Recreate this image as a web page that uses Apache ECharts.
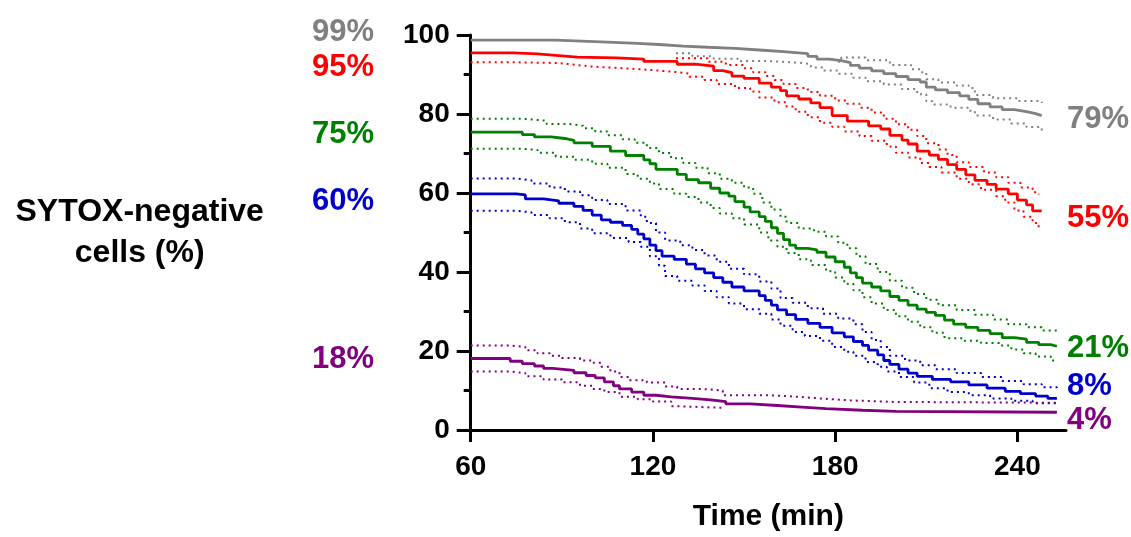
<!DOCTYPE html>
<html>
<head>
<meta charset="utf-8">
<title>SYTOX-negative cells</title>
<script src="https://cdn.jsdelivr.net/npm/echarts@6/dist/echarts.min.js"></script>
<style>
  html, body { margin: 0; padding: 0; background: #fff; }
  #chart { width: 1131px; height: 537px; }
</style>
</head>
<body>
<div id="chart"></div>
<script>
// tick labels
var xTicks = [60, 120, 180, 240];
var yTicks = [0, 20, 40, 60, 80, 100];

// group names / colours / labels at start and end of each curve
var groups = ['gray', 'red', 'green', 'blue', 'purple'];
var colors = ['#808080', '#ff0000', '#008000', '#0000cc', '#800080'];
var startLabels = ['99%', '95%', '75%', '60%', '18%'];
var endLabels = ['79%', '55%', '21%', '8%', '4%'];

// [time (min), % SYTOX-negative] — main curves
var grayMain = [[60, 98.7], [88, 98.2], [105, 97.9], [115, 97.6], [122, 97.2], [130, 96.9], [138, 96.6], [147, 96.2], [155, 95.8], [163, 95.5], [168, 95.3], [171, 94.6], [174, 93.9], [178, 93.5], [182, 93.0], [185, 92.3], [188, 91.6], [192, 90.9], [196, 90.2], [200, 89.5], [204, 88.7], [208, 88.1], [210, 86.8], [213, 86.1], [217, 85.4], [221, 84.6], [224, 83.7], [227, 82.6], [231, 81.8], [235, 81.1], [239, 80.6], [243, 80.1], [246, 79.6], [248, 79.6]];
var redMain = [[60, 95.5], [74, 95.2], [82, 94.8], [89, 94.4], [95, 94.2], [108, 93.9], [117, 93.3], [128, 92.6], [134, 92.1], [140, 91.0], [143, 90.5], [146, 89.6], [150, 89.0], [155, 87.8], [159, 86.8], [162, 85.9], [164, 84.6], [168, 83.8], [172, 82.8], [175, 81.6], [179, 79.6], [184, 78.2], [191, 77.0], [195, 76.2], [198, 74.6], [202, 73.4], [204, 72.4], [207, 70.6], [211, 69.6], [214, 68.5], [217, 67.2], [220, 66.0], [223, 64.6], [226, 63.2], [230, 62.2], [233, 61.0], [237, 59.8], [240, 58.2], [243, 57.0], [245, 55.5], [248, 55.5]];
var greenMain = [[60, 75.4], [77, 74.8], [81, 74.2], [86.5, 73.8], [91, 73.3], [94, 72.7], [100, 71.8], [106, 70.6], [111, 69.5], [117, 68.4], [119, 67.4], [121, 66.0], [128, 64.7], [131, 63.4], [135, 62.6], [139, 61.2], [142, 60.0], [145, 59.2], [147, 57.8], [150, 56.4], [152, 55.2], [155, 54.0], [157, 52.8], [159, 51.2], [161, 49.8], [163, 48.2], [165, 46.8], [167, 46.0], [171, 45.6], [174, 45.0], [177, 43.8], [180, 42.6], [183, 41.2], [185, 39.8], [187, 38.6], [189, 37.2], [192, 36.2], [195, 35.2], [198, 33.8], [201, 32.8], [204, 31.6], [207, 30.6], [210, 29.8], [213, 29.0], [216, 27.8], [219, 26.8], [223, 26.0], [227, 25.2], [231, 24.4], [235, 23.4], [239, 23.0], [243, 22.2], [247, 21.6], [251, 21.2], [253, 21.2]];
var blueMain = [[60, 59.8], [75, 59.5], [78, 58.5], [84, 58.0], [89, 57.4], [94, 56.6], [97, 55.6], [100, 54.4], [103, 53.2], [106, 52.6], [110, 51.8], [113, 50.8], [115, 49.6], [117, 48.4], [119, 46.8], [121, 45.4], [123, 44.0], [127, 43.2], [131, 42.0], [134, 40.8], [137, 39.8], [140, 38.6], [143, 37.4], [146, 36.2], [150, 35.2], [155, 34.0], [157, 32.8], [159, 31.6], [161, 30.4], [164, 29.2], [167, 28.0], [171, 27.0], [175, 26.0], [179, 24.6], [183, 23.6], [186, 22.4], [189, 21.4], [191, 20.2], [194, 19.0], [196, 17.6], [198, 16.6], [201, 15.4], [204, 14.4], [207, 13.6], [212, 12.8], [218, 12.2], [224, 11.4], [230, 10.6], [236, 9.8], [241, 9.2], [246, 8.6], [250, 8.0], [253, 7.9]];
var purpleMain = [[60, 18.1], [73, 17.4], [77, 16.8], [81, 16.2], [84, 15.6], [87, 15.1], [94, 14.5], [98, 13.8], [101, 13.2], [104, 12.2], [107, 11.2], [109, 10.4], [113, 9.6], [117, 8.8], [121, 8.4], [126, 8.0], [133, 7.6], [139, 7.2], [144, 6.6], [152, 6.2], [161, 5.8], [169, 5.4], [177, 5.0], [189, 4.7], [200, 4.5], [253, 4.5]];

// confidence bands (dotted)
var grayUpper = [[181, 93.2], [182, 94.3], [190, 93.6], [198, 92.4], [205, 91.3], [208, 90.6], [210, 88.8], [214, 88.0], [220, 87.2], [224, 86.6], [226, 84.8], [232, 84.0], [240, 83.3], [248, 82.8]];
var grayLower = [[127.6, 95.4], [133, 94.6], [140, 94.0], [148, 93.4], [158, 93.0], [168, 92.6], [172, 91.8], [176, 91.0], [181, 90.2], [186, 89.2], [190, 88.3], [196, 87.5], [202, 86.3], [207, 85.0], [210, 83.2], [212, 82.4], [218, 81.6], [224, 80.8], [226, 79.6], [232, 78.6], [238, 77.6], [243, 76.7], [248, 75.8]];
var redUpper = [[127.6, 94.1], [138, 93.2], [144, 92.4], [150, 91.6], [153, 90.6], [157, 89.6], [160, 88.6], [163, 87.6], [167, 86.6], [171, 85.6], [175, 84.6], [180, 83.4], [184, 82.6], [188, 81.6], [192, 80.4], [196, 78.8], [200, 77.4], [204, 76.0], [207, 74.4], [210, 72.6], [214, 71.0], [217, 69.6], [220, 67.8], [224, 66.6], [229, 65.2], [233, 64.0], [237, 62.6], [241, 61.4], [245, 60.2], [247, 59.6]];
var redLower = [[60, 93.1], [74, 92.9], [89, 92.4], [95, 92.0], [100, 91.6], [110, 91.1], [120, 90.6], [128, 90.2], [132, 89.4], [137, 88.6], [141, 87.6], [147, 86.6], [152, 85.7], [155, 84.2], [160, 83.0], [164, 81.9], [167, 80.6], [171, 79.2], [175, 77.8], [179, 76.8], [183, 75.6], [188, 74.4], [192, 73.2], [197, 71.8], [200, 70.2], [204, 69.0], [208, 67.6], [211, 66.6], [215, 65.2], [220, 63.6], [224, 62.2], [228, 60.8], [233, 59.2], [236, 57.6], [239, 55.6], [242, 54.0], [245, 52.4], [247, 50.9]];
var greenUpper = [[60, 78.8], [77, 78.3], [85, 77.5], [92, 77.0], [97, 76.4], [101, 75.6], [105, 74.6], [110, 73.6], [114, 72.7], [118, 71.4], [122, 70.1], [126, 68.8], [130, 67.6], [134, 66.4], [138, 65.0], [142, 63.6], [146, 62.6], [150, 61.4], [153, 59.8], [156, 57.6], [159, 55.8], [162, 54.0], [164, 52.4], [168, 51.0], [173, 50.2], [177, 49.0], [181, 47.4], [184, 46.0], [187, 44.0], [190, 42.0], [194, 40.0], [198, 37.8], [202, 36.0], [206, 34.4], [210, 33.0], [214, 31.6], [220, 30.4], [226, 29.2], [232, 28.0], [237, 26.8], [243, 26.0], [248, 25.2], [253, 24.6]];
var greenLower = [[60, 71.2], [77, 70.9], [82, 70.2], [88, 69.2], [94, 68.4], [100, 67.4], [105, 66.4], [111, 64.8], [115, 63.6], [119, 62.4], [122, 61.0], [127, 59.8], [131, 59.0], [135, 57.6], [139, 56.2], [142, 54.8], [146, 53.6], [150, 52.0], [155, 50.0], [158, 48.0], [161, 46.4], [164, 44.8], [168, 43.2], [172, 41.8], [177, 40.2], [180, 38.6], [183, 37.0], [186, 35.4], [189, 33.6], [192, 32.0], [196, 30.4], [200, 28.8], [204, 27.4], [208, 26.0], [212, 24.6], [216, 23.2], [222, 22.6], [228, 22.0], [234, 21.4], [238, 20.4], [242, 19.4], [246, 18.6], [251, 17.6], [253, 17.6]];
var blueUpper = [[60, 63.7], [75, 63.2], [80, 62.4], [86, 61.4], [91, 60.4], [96, 59.4], [100, 58.2], [105, 57.2], [111, 55.6], [116, 54.0], [118, 52.4], [121, 50.0], [124, 48.0], [129, 46.8], [133, 45.6], [137, 44.2], [141, 42.6], [145, 40.8], [150, 39.4], [155, 37.6], [159, 35.8], [162, 33.4], [166, 32.2], [171, 30.8], [176, 29.4], [181, 28.2], [186, 26.8], [189, 24.8], [192, 22.8], [195, 21.0], [198, 18.8], [203, 17.6], [208, 16.4], [213, 15.4], [220, 14.4], [228, 13.4], [235, 12.4], [242, 11.6], [248, 10.8], [253, 10.4]];
var blueLower = [[60, 55.5], [75, 55.1], [80, 54.4], [86, 53.6], [91, 52.6], [96, 51.0], [100, 49.8], [106, 48.6], [112, 47.6], [116, 46.4], [119, 44.0], [122, 41.6], [124, 39.0], [128, 37.8], [133, 36.6], [137, 35.2], [141, 33.6], [145, 32.0], [150, 30.6], [155, 29.4], [159, 28.0], [162, 26.4], [166, 24.8], [170, 23.8], [175, 22.6], [179, 21.0], [183, 19.8], [186, 18.8], [190, 17.2], [194, 16.0], [197, 14.8], [201, 13.4], [206, 12.0], [211, 10.6], [217, 9.6], [224, 8.8], [231, 8.0], [238, 7.4], [245, 6.8], [253, 6.3]];
var purpleUpper = [[60, 21.4], [73, 21.0], [78, 20.2], [82, 19.4], [86, 18.8], [90, 18.2], [96, 17.6], [100, 17.0], [103, 16.0], [106, 14.8], [109, 13.4], [112, 12.6], [118, 12.0], [124, 11.0], [128, 10.4], [136, 10.0], [143, 8.8], [158, 8.5], [166, 8.0], [175, 7.5], [185, 7.1], [200, 6.9], [253, 6.9]];
var purpleLower = [[60, 14.8], [73, 14.4], [78, 13.6], [84, 12.8], [90, 12.1], [96, 11.2], [100, 10.4], [104, 9.6], [109, 8.4], [115, 7.8], [120, 7.2], [126, 6.0], [129, 5.6], [143, 5.6]];

var mains = [grayMain, redMain, greenMain, blueMain, purpleMain];
var uppers = [grayUpper, redUpper, greenUpper, blueUpper, purpleUpper];
var lowers = [grayLower, redLower, greenLower, blueLower, purpleLower];

var FONT = '"Liberation Sans", Arial, Helvetica, sans-serif';

var myChart = echarts.init(document.getElementById('chart'));

var series = [];
// dotted bands first, solid curves on top
groups.forEach(function (g, i) {
  [uppers[i], lowers[i]].forEach(function (d, k) {
    series.push({
      name: g + (k ? ' lower' : ' upper'),
      type: 'line',
      step: 'end',
      data: d,
      symbol: 'none',
      silent: true,
      lineStyle: { color: colors[i], width: 2, type: [2, 4] }
    });
  });
});
groups.forEach(function (g, i) {
  series.push({
    name: g,
    type: 'line',
    step: 'end',
    data: mains[i],
    symbol: 'none',
    silent: true,
    z: 3,
    lineStyle: { color: colors[i], width: 2.8 }
  });
});

// percentage labels beside the curves
var leftY = [31, 66, 133, 200, 358];
var rightY = [118, 217, 347, 385, 419];
var graphics = [];
groups.forEach(function (g, i) {
  graphics.push({
    type: 'text', right: 1131 - 374, top: leftY[i] - 14,
    style: { text: startLabels[i], fill: colors[i], font: 'bold 31px ' + FONT }
  });
  graphics.push({
    type: 'text', left: 1067, top: rightY[i] - 14,
    style: { text: endLabels[i], fill: colors[i], font: 'bold 31px ' + FONT }
  });
});

var option = {
  animation: false,
  backgroundColor: '#fff',
  grid: { left: 470.7, right: 65, top: 35, bottom: 105.5, containLabel: false },
  xAxis: {
    type: 'value',
    min: 60,
    max: 256,
    interval: 60,
    name: 'Time (min)',
    nameLocation: 'middle',
    nameGap: 72,
    nameTextStyle: { color: '#000', fontSize: 30, fontWeight: 'bold', fontFamily: FONT, verticalAlign: 'top' },
    axisLine: { onZero: false, lineStyle: { color: '#000', width: 3 } },
    axisTick: { show: true, length: 12, customValues: xTicks, lineStyle: { color: '#000', width: 3 } },
    axisLabel: {
      customValues: xTicks,
      margin: 23,
      color: '#000', fontSize: 28, fontWeight: 'bold', fontFamily: FONT,
      formatter: function (v) { return xTicks.indexOf(v) >= 0 ? String(v) : ''; }
    },
    splitLine: { show: false }
  },
  yAxis: {
    type: 'value',
    min: 0,
    max: 100,
    interval: 20,
    name: 'SYTOX-negative\ncells (%)',
    nameLocation: 'middle',
    nameRotate: 0,
    nameGap: 331,
    nameTextStyle: { color: '#000', fontSize: 32, fontWeight: 'bold', fontFamily: FONT, align: 'center', lineHeight: 41, padding: [6, 0, 0, 0] },
    axisLine: { show: true, lineStyle: { color: '#000', width: 3 } },
    axisTick: { show: true, length: 14, lineStyle: { color: '#000', width: 3 } },
    minorTick: { show: true, splitNumber: 2, length: 7, lineStyle: { color: '#000', width: 3 } },
    axisLabel: {
      margin: 21,
      color: '#000', fontSize: 28, fontWeight: 'bold', fontFamily: FONT,
      formatter: function (v) { return yTicks.indexOf(v) >= 0 ? String(v) : ''; }
    },
    splitLine: { show: false }
  },
  graphic: graphics,
  series: series
};

myChart.setOption(option);
</script>
</body>
</html>
